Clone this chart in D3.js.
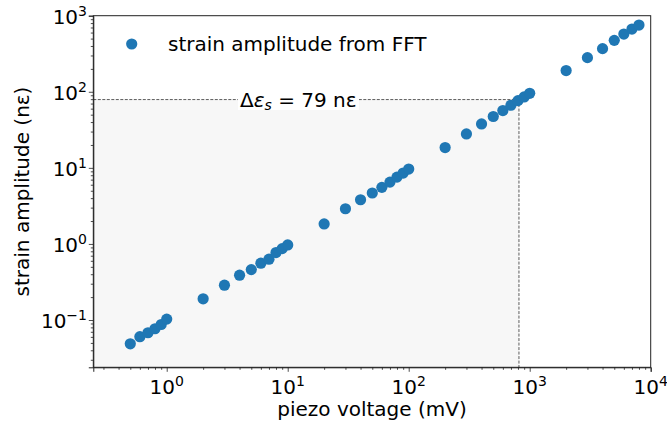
<!DOCTYPE html>
<html><head><meta charset="utf-8">
<script src="https://cdn.jsdelivr.net/npm/d3@7"></script>
<style>body{margin:0;background:#fff}svg{display:block}text{font-family:"DejaVu Sans",sans-serif;fill:#000}</style>
</head><body><svg id="c" width="667" height="425"></svg>
<script>
const voltage = [0.5,0.6,0.7,0.8,0.9,1, 2,3,4,5,6,7,8,9,10, 20,30,40,50,60,70,80,90,100,
  200,300,400,500,600,700,800,900,1000, 2000,3000,4000,5000,6000,7000,8000];
const strain = [0.0487,0.0603,0.068,0.0767,0.0873,0.1028, 0.19,0.287,0.388,0.46,0.558,0.63,0.77,0.867,0.97,
  1.83,2.9,3.81,4.67,5.54,6.5,7.56,8.55,9.64,
  18.5,27.9,37.8,47.3,56.6,66.5,76.6,85.5,95.5, 190,281,369,474,574,667,753];
const xTickExps = [0,1,2,3,4];
const yTickExps = [-1,0,1,2,3];
const seriesName = "strain amplitude from FFT";
const markV = 815, markS = 79;
const xLabel = "piezo voltage (mV)";
const yLabel = "strain amplitude (nε)";

const L=93.3, R=650.7, T=15.7, B=367.3;
const FS = 20, FSE = 14;
const svg = d3.select("#c");
const x = d3.scaleLog().domain([0.2473, 1e4]).range([L, R]);
const y = d3.scaleLog().domain([0.0239, 1000]).range([B, T]);

// shaded region
svg.append("rect").attr("x", L).attr("y", y(markS)).attr("width", x(markV)-L).attr("height", B-y(markS)).attr("fill", "#f7f7f7");
svg.append("line").attr("x1", L).attr("x2", x(markV)).attr("y1", y(markS)).attr("y2", y(markS))
  .attr("stroke", "#333").attr("stroke-width", 0.8).attr("stroke-dasharray", "3,1.5");
svg.append("line").attr("x1", x(markV)).attr("x2", x(markV)).attr("y1", y(markS)).attr("y2", B)
  .attr("stroke", "#333").attr("stroke-width", 0.8).attr("stroke-dasharray", "3,1.5");

// annotation
svg.append("rect").attr("x", 238).attr("y", 90).attr("width", 121).attr("height", 20).attr("fill", "#fff");
const ann = svg.append("text").attr("x", 240).attr("y", 107).attr("font-size", FS);
ann.append("tspan").text("Δ");
ann.append("tspan").attr("font-style", "italic").text("ε");
ann.append("tspan").attr("font-style", "italic").attr("font-size", FSE).attr("dy", 3).text("s");
ann.append("tspan").attr("dy", -3).text(" = 79 nε");

// points
svg.append("g").selectAll("circle").data(voltage).join("circle")
  .attr("cx", (d,i)=>x(d)).attr("cy", (d,i)=>y(strain[i])).attr("r", 5.6).attr("fill", "#1f77b4");

// axes
const xAxis = d3.axisBottom(x).tickValues(xTickExps.map(e=>Math.pow(10,e))).tickFormat("").tickSizeOuter(0).tickSize(4.5);
svg.append("g").attr("transform", `translate(0,${B})`).call(xAxis);
const xMinor = [];
for (let e=-1;e<4;e++) for (let m=2;m<10;m++){const v=m*Math.pow(10,e); if(v>=0.2473&&v<=1e4) xMinor.push(v);}
svg.append("g").attr("transform", `translate(0,${B})`).call(d3.axisBottom(x).tickValues(xMinor).tickFormat("").tickSize(2.5))
  .call(g=>g.select(".domain").remove());
const yAxis = d3.axisLeft(y).tickValues(yTickExps.map(e=>Math.pow(10,e))).tickFormat("").tickSizeOuter(0).tickSize(4.5);
svg.append("g").attr("transform", `translate(${L},0)`).call(yAxis);
const yMinor = [];
for (let e=-2;e<3;e++) for (let m=2;m<10;m++){const v=m*Math.pow(10,e); if(v>=0.0239&&v<=1000) yMinor.push(v);}
svg.append("g").attr("transform", `translate(${L},0)`).call(d3.axisLeft(y).tickValues(yMinor).tickFormat("").tickSize(2.5))
  .call(g=>g.select(".domain").remove());
svg.selectAll(".tick line").attr("stroke", "#222").attr("stroke-width", 0.8);
svg.selectAll(".domain").attr("stroke", "#222");
// frame
svg.append("rect").attr("x", L).attr("y", T).attr("width", R-L).attr("height", B-T)
  .attr("fill", "none").attr("stroke", "#222").attr("stroke-width", 1);

// tick labels
xTickExps.forEach(e=>{
  const t = svg.append("text").attr("x", x(Math.pow(10,e))).attr("y", 394).attr("text-anchor", "middle").attr("font-size", FS);
  t.append("tspan").text("10");
  t.append("tspan").attr("font-size", FSE).attr("dy", -8).text(e<0?"−"+(-e):String(e));
});
yTickExps.forEach(e=>{
  const t = svg.append("text").attr("x", 87).attr("y", y(Math.pow(10,e))+8).attr("text-anchor", "end").attr("font-size", FS);
  t.append("tspan").text("10");
  t.append("tspan").attr("font-size", FSE).attr("dy", -8).text(e<0?"−"+(-e):String(e));
});

// axis labels
svg.append("text").attr("x", (L+R)/2).attr("y", 416).attr("text-anchor", "middle").attr("font-size", FS).text(xLabel);
svg.append("text").attr("transform", `translate(29,${(T+B)/2}) rotate(-90)`).attr("text-anchor", "middle").attr("font-size", FS).text(yLabel);

// legend
svg.append("circle").attr("cx", 131.7).attr("cy", 44).attr("r", 5.6).attr("fill", "#1f77b4");
svg.append("text").attr("x", 168).attr("y", 51).attr("font-size", FS).text(seriesName);
</script></body></html>
